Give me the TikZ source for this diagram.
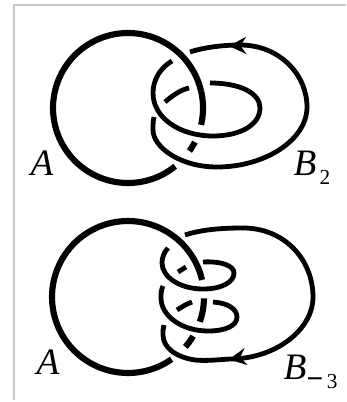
\documentclass[tikz,border=0pt]{standalone}
\usepackage{fontspec}
\setmainfont{Liberation Serif}
\usetikzlibrary{arrows.meta}
\tikzset{
    strandA/.style={line width=4.6pt, samples=50, smooth},
    strandB/.style={line width=3.6pt},
    framing/.style={color=black!22, line width=1.5pt},
    tipB/.style={line width=1pt, -{Stealth[length=13pt, width=13pt, inset=4.5pt]}},
    biglabel/.style={inner sep=0pt, font=\fontsize{28}{28}\selectfont\itshape},
    sublabel/.style={inner sep=0pt, font=\fontsize{16}{16}\selectfont}
}
\begin{document}
\begin{tikzpicture}[x=0.75pt, y=-0.75pt]
    \useasboundingbox (0,0) rectangle (346,402);
    % page edge
    \draw[framing] (346,5) -- (14,5) -- (14,400);
    % upper link: circle A, pieces cut where it passes under B
    \draw[strandA, domain=51:347] plot ({128+75*cos(\x)}, {108+75*sin(\x)});
    \draw[strandA, domain=-13:13] plot ({128+75*cos(\x)}, {108+75*sin(\x)});
    \draw[strandA, domain=27:35] plot ({128+75*cos(\x)}, {108+75*sin(\x)});
    % upper link: twisted band B
    \draw[strandB] (190,52) .. controls (205,47) and (225,45) .. (240,45)
        .. controls (280,45) and (307,75) .. (307,107)
        .. controls (307,140) and (265,167) .. (217,167)
        .. controls (180,167) and (153,147) .. (153,130)
        .. controls (153,125) and (153,121) .. (154,117);
    \draw[strandB] (172,61) .. controls (160,68) and (153,80) .. (153,93)
        .. controls (153,118) and (180,136) .. (213,136)
        .. controls (240,136) and (260,125) .. (260,108)
        .. controls (260,93) and (240,83) .. (210,83);
    \draw[strandB] (189,88) .. controls (180,90) and (172,96) .. (165,102);
    \draw[tipB] (246,45.5) -- (229,46);
    % lower link: circle A
    \draw[strandA, domain=55:347] plot ({128+76*cos(\x)}, {297+76*sin(\x)});
    \draw[strandA, domain=1:19] plot ({128+76*cos(\x)}, {297+76*sin(\x)});
    \draw[strandA, domain=31:41] plot ({128+76*cos(\x)}, {297+76*sin(\x)});
    % lower link: band B with three crossings
    \draw[strandB] (185,235) .. controls (203,229) and (225,228) .. (243,228)
        .. controls (285,228) and (313,260) .. (313,297)
        .. controls (313,330) and (275,359) .. (230,359)
        .. controls (215,360) and (205,361) .. (195,360)
        .. controls (175,357) and (163,347) .. (163,335)
        .. controls (163,331) and (163,328) .. (164,325);
    \draw[strandB] (168,248) .. controls (164,252) and (162,258) .. (162,263)
        .. controls (162,277) and (180,289) .. (203,289)
        .. controls (222,289) and (234,282) .. (234,273)
        .. controls (234,266) and (222,261) .. (203,262);
    \draw[strandB] (186,267) -- (178,272);
    \draw[strandB] (163,286) .. controls (161,290) and (161,294) .. (161,298)
        .. controls (161,316) and (182,331) .. (208,331)
        .. controls (225,331) and (237,326) .. (237,317)
        .. controls (237,309) and (228,303) .. (213,302);
    \draw[strandB] (192,302) .. controls (186,304) and (182,307) .. (177,310);
    \draw[tipB] (246,356.5) -- (229,359.5);
    % labels
    \node[biglabel] (labelAtop) at (42,163) {A};
    \node[biglabel] (labelBtop) at (305,163) {B};
    \node[sublabel] (indexBtop) at (325,177) {2};
    \node[biglabel] (labelAbot) at (48,362) {A};
    \node[biglabel] (labelBbot) at (295,367) {B};
    \node[sublabel] (indexBbot) at (322,382) {{\fontsize{22}{22}\selectfont\textbf{−}}\,3};
\end{tikzpicture}
\end{document}
